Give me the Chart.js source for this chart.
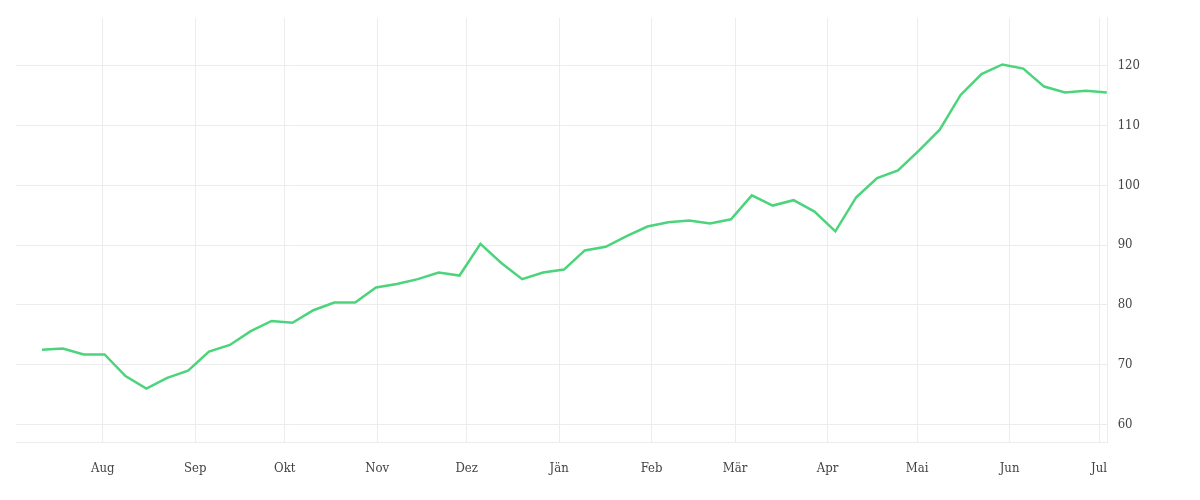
<!DOCTYPE html>
<html><head><meta charset="utf-8">
<script src="https://cdn.jsdelivr.net/npm/chart.js@4"></script>
<style>html,body{margin:0;background:#fff}#wrap{width:1200px;height:500px}</style>
</head><body><div id="wrap"><canvas id="c"></canvas></div>
<script>
// days since 1 Jul, weekly points
const firstDay = 10.6;
const values = [72.5,72.7,71.7,71.7,68.1,66.0,67.8,69.0,72.2,73.3,75.6,77.3,77.0,79.1,80.4,80.4,82.9,83.5,84.3,85.4,84.9,90.2,87.0,84.3,85.4,85.9,89.1,89.7,91.5,93.1,93.8,94.1,93.6,94.3,98.3,96.6,97.5,95.6,92.3,98.0,101.2,102.5,105.8,109.3,115.1,118.6,120.2,119.5,116.5,115.5,115.8,115.5];
const monthLabels = ['Aug','Sep','Okt','Nov','Dez','Jän','Feb','Mär','Apr','Mai','Jun','Jul'];
const monthDays = [31,62,92,123,153,184,215,243,274,304,335,365];
const yTicks = [60,70,80,90,100,110,120];

const points = values.map((v,i)=>({x: firstDay + 7*i, y: v}));
const font = {family:'"DejaVu Serif Condensed", "DejaVu Serif"', size:13};

new Chart(document.getElementById('c'), {
  type:'line',
  data:{datasets:[{data:points, borderColor:'#4cd47c', borderWidth:2.5, pointRadius:0, tension:0, fill:false}]},
  options:{
    responsive:true, maintainAspectRatio:false, animation:false,
    layout:{padding:{left:16,top:4,right:50,bottom:6}},
    plugins:{legend:{display:false}, tooltip:{enabled:false}},
    scales:{
      x:{type:'linear', min:1.9, max:firstDay+7*(values.length-1)+0.3,
        afterBuildTicks:(s)=>{s.ticks = monthDays.map(v=>({value:v}));},
        ticks:{color:'#444', font, maxRotation:0, autoSkip:false, padding:18,
          callback:(v)=>monthLabels[monthDays.indexOf(v)]},
        grid:{color:'#ececec', drawTicks:false}, border:{display:true, color:'#ececec'}},
      y:{position:'right', min:57, max:128,
        afterBuildTicks:(s)=>{s.ticks = yTicks.map(v=>({value:v}));},
        ticks:{color:'#444', font, padding:10},
        grid:{color:'#ececec', drawTicks:false}, border:{color:'#ececec'}}
    }
  }
});
</script></body></html>
